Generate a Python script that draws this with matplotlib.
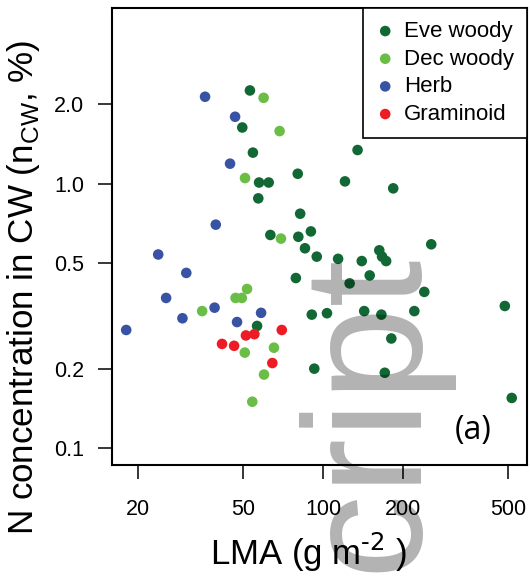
import matplotlib
matplotlib.use("Agg")
import matplotlib.pyplot as plt
from matplotlib.ticker import FixedLocator, FixedFormatter, NullLocator

# ---------------- data ----------------
categories = ["Eve woody", "Dec woody", "Herb", "Graminoid"]
colors = ["#116834", "#6ABD45", "#3853A4", "#ED1C24"]

eve_lma = [53, 49.6, 54.4, 135, 57.4, 62.4, 80.3, 121, 184, 57, 82, 63.3, 80.7,
           90, 85.5, 94.7, 256, 163, 167, 173, 114, 140, 79, 150, 126, 241, 485,
           90.7, 103.5, 143, 166, 221, 56.4, 181, 92.7, 171, 515]
eve_n = [2.25, 1.63, 1.31, 1.34, 1.01, 1.01, 1.09, 1.02, 0.96, 0.88, 0.77, 0.64,
         0.63, 0.66, 0.57, 0.53, 0.59, 0.56, 0.53, 0.51, 0.52, 0.51, 0.44, 0.45,
         0.42, 0.39, 0.345, 0.32, 0.324, 0.33, 0.32, 0.33, 0.29, 0.26, 0.20,
         0.193, 0.155]

dec_lma = [59.7, 68.6, 50.8, 69.4, 51.7, 46.8, 49.4, 35, 65.3, 50.7, 59.9, 54.1]
dec_n = [2.11, 1.58, 1.05, 0.62, 0.40, 0.37, 0.37, 0.33, 0.24, 0.23, 0.19, 0.15]

herb_lma = [35.9, 46.6, 44.6, 39.4, 23.9, 30.5, 25.6, 39, 29.5, 58.4, 47.4, 18.1]
herb_n = [2.13, 1.79, 1.19, 0.70, 0.54, 0.46, 0.37, 0.34, 0.31, 0.325, 0.30, 0.28]

gram_lma = [69.9, 51.2, 55.1, 41.6, 46.2, 64.4]
gram_n = [0.28, 0.267, 0.27, 0.248, 0.244, 0.21]

x_ticks = [20, 50, 100, 200, 500]
x_ticklabels = ["20", "50", "100", "200", "500"]
y_ticks = [0.1, 0.2, 0.5, 1.0, 2.0]
y_ticklabels = ["0.1", "0.2", "0.5", "1.0", "2.0"]

# ---------------- figure ----------------
plt.rcParams["font.family"] = ["Liberation Sans", "DejaVu Sans"]
fig = plt.figure(figsize=(5.3, 5.8), dpi=100)
W, H = 530, 580
L, R, T, B = 112, 527, 8, 465
ax = fig.add_axes([L / W, 1 - B / H, (R - L) / W, (B - T) / H])

series = [(eve_lma, eve_n), (dec_lma, dec_n), (herb_lma, herb_n), (gram_lma, gram_n)]
handles = []
for (xs, ys), c, lab in zip(series, colors, categories):
    h = ax.scatter(xs, ys, s=58, color=c, edgecolors="none", label=lab, zorder=3)
    handles.append(h)

ax.set_xscale("log")
ax.set_yscale("log")
ax.set_xlim(16.0, 588)
ax.set_ylim(0.0865, 4.61)

ax.xaxis.set_major_locator(FixedLocator(x_ticks))
ax.xaxis.set_major_formatter(FixedFormatter(x_ticklabels))
ax.xaxis.set_minor_locator(NullLocator())
ax.yaxis.set_major_locator(FixedLocator(y_ticks))
ax.yaxis.set_major_formatter(FixedFormatter(y_ticklabels))
ax.yaxis.set_minor_locator(NullLocator())

ax.tick_params(axis="both", direction="out", length=10, width=1.1,
               labelsize=15.5, color="black")
ax.tick_params(axis="x", pad=14.5)
ax.tick_params(axis="y", pad=10)
for sp in ax.spines.values():
    sp.set_linewidth(1.5)
    sp.set_color("black")

leg = ax.legend(handles=handles, loc="upper right", bbox_to_anchor=(1, 1),
                borderaxespad=0, fontsize=16, frameon=True, fancybox=False,
                edgecolor="black", framealpha=1, handlelength=0.8,
                handletextpad=0.45, borderpad=0.58, labelspacing=0.3,
                scatterpoints=1)
leg.get_frame().set_linewidth(1.2)
leg.set_zorder(5)

ax.text((473 - L) / (R - L), (B - 430) / (B - T), "(a)", fontsize=23,
        family=["Open Sans", "DejaVu Sans"], ha="center", va="center",
        transform=ax.transAxes, zorder=6)

fig.text(309 / W, 1 - 552 / H, r"LMA (g m$^{\text{-2}}$ )", fontsize=25,
         ha="center", va="center")
fig.text(24 / W, 1 - 287 / H, r"N concentration in CW (n$_{\mathregular{CW}}$, %)",
         fontsize=25.2, rotation=90, ha="center", va="center")

# manuscript watermark
fig.text(417.7 / W, 1 - 254 / H, "script", fontsize=121.7, rotation=90,
         rotation_mode="anchor", ha="right", va="baseline", color="black",
         alpha=0.3, zorder=10)

fig.savefig("out.png", dpi=100)
